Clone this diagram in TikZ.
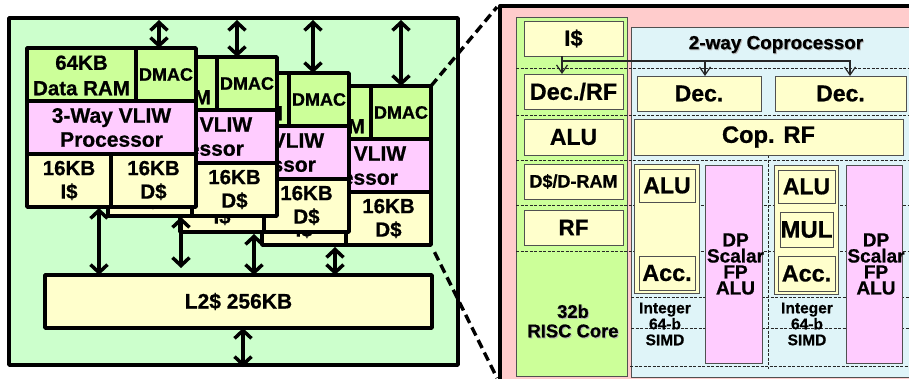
\documentclass[tikz,border=0pt]{standalone}
\usepackage{fontspec}
\setmainfont{Liberation Sans}[BoldFeatures={FakeBold=0.7}]
\usetikzlibrary{arrows.meta}
\definecolor{outergreen}{HTML}{CCFFCC}
\definecolor{ramgreen}{HTML}{CCFF99}
\definecolor{pinkfill}{HTML}{FFCCFF}
\definecolor{creamfill}{HTML}{FFFFCC}
\definecolor{redfill}{HTML}{FFCCCC}
\definecolor{bluefill}{HTML}{DFF4F8}
\definecolor{thinline}{HTML}{505050}
\newcommand\fsz[1]{\fontsize{#1}{#1}\selectfont\bfseries}
\newcommand\shd[1]{\leavevmode\rlap{\raisebox{-1pt}{\hspace{1pt}\textcolor{black!28}{#1}}}#1}
\tikzset{
  blk/.style={rectangle,inner sep=0pt,outer sep=0pt,align=center,text=black},
  heavy/.style={blk,draw=black,line width=3.6pt,line join=round},
  light/.style={blk,draw=thinline,line width=1pt},
  bus/.style={draw=black,line width=3.5pt,{Straight Barb[length=8pt,width=17pt]}-{Straight Barb[length=8pt,width=17pt]}},
  zoomline/.style={draw=black,line width=3.4pt,dash pattern=on 9pt off 5pt},
  stage/.style={draw=black!85,line width=.7pt,dash pattern=on 3pt off 1.5pt},
  feed/.style={draw=black!85,line width=1.2pt,-{Straight Barb[length=8pt,width=11pt]}},
  lbl/.style={inner sep=0pt,align=center,text=black}
}
\newcommand\blk[7]{%
  \pgfmathsetmacro\blkx{((#2)+(#4))/2}%
  \pgfmathsetmacro\blky{((#3)+(#5))/2}%
  \pgfmathsetmacro\blkw{(#4)-(#2)}%
  \pgfmathsetmacro\blkh{(#5)-(#3)}%
  \node[#6,minimum width=\blkw pt,minimum height=\blkh pt] (#1) at (\blkx,\blky) {#7};}
\newcommand\cluster[3]{%
  \blk{#1ram}{#2}{#3}{#2+109}{#3+53}{heavy,fill=ramgreen,font=\fsz{20.5},text depth=0pt}{\rule{0pt}{16pt}64KB\\[5pt]Data RAM}
  \blk{#1dmac}{#2+109}{#3}{#2+169}{#3+53}{heavy,fill=ramgreen,font=\fsz{18}}{DMAC}
  \blk{#1vliw}{#2}{#3+53}{#2+169}{#3+106}{heavy,fill=pinkfill,font=\fsz{21}}{3-Way VLIW\\[3pt]Processor}
  \blk{#1i}{#2}{#3+106}{#2+84}{#3+159}{heavy,fill=creamfill,font=\fsz{20.5}}{16KB\\[3pt]I\$}
  \blk{#1d}{#2+84}{#3+106}{#2+169}{#3+159}{heavy,fill=creamfill,font=\fsz{20.5}}{16KB\\[3pt]D\$}
}
\begin{document}
\begin{tikzpicture}[x=1pt,y=-1pt]
\clip (0,0) rectangle (909,378);
\fill[white] (0,0) rectangle (909,378);
% left panel
\blk{chip}{9}{18}{458}{365}{heavy,fill=outergreen}{}
\cluster{cd}{262}{86}
\cluster{cc}{180}{73}
\cluster{cb}{108}{57}
\cluster{ca}{27}{48}
\blk{ltwo}{45}{275}{432}{328}{heavy,fill=creamfill,font=\fsz{21}}{L2\$ 256KB}
\coordinate (ta) at (159,20);
\coordinate (tb) at (237,20);
\coordinate (tc) at (313,20);
\coordinate (td) at (401,20);
\draw[bus] (ta) -- (ta |- cadmac.north);
\draw[bus] (tb) -- (tb |- cbdmac.north);
\draw[bus] (tc) -- (tc |- ccdmac.north);
\draw[bus] (td) -- (td |- cddmac.north);
\coordinate (ba) at (99,208);
\coordinate (bb) at (181,217);
\coordinate (bbe) at (181,268);
\coordinate (bc) at (254,234);
\coordinate (bd) at (335,247);
\draw[bus] (ba) -- (ba |- ltwo.north);
\draw[bus] (bb) -- (bbe);
\draw[bus] (bc) -- (bc |- ltwo.north);
\draw[bus] (bd) -- (bd |- ltwo.north);
\coordinate (ext) at (243,367);
\draw[bus] (ext |- ltwo.south) -- (ext);
% right panel
\fill[redfill] (500,6) rectangle (915,385);
\draw[black,line width=4pt,line join=round] (500,385) -- (500,6) -- (915,6);
\blk{risc}{516}{17}{627}{376}{blk,draw=thinline,line width=.8pt,fill=ramgreen}{}
\blk{cop}{631}{27}{920}{377}{blk,draw=thinline,line width=.8pt,fill=bluefill}{}
\coordinate (zt) at (497,7);
\coordinate (zb) at (497,378);
\draw[zoomline] (cddmac.north east) -- (zt);
\draw[zoomline,shorten <=8pt] (cdd.south east) -- (zb);
% stage lines
\draw[stage] (516,68.5) -- (909,68.5);
\draw[stage] (516,115.5) -- (909,115.5);
\draw[stage] (516,160.5) -- (909,160.5);
\draw[stage] (516,205) -- (909,205);
\draw[stage] (516,251) -- (909,251);
\draw[stage] (631,297.5) -- (909,297.5);
\draw[stage] (631,328.5) -- (909,328.5);
\draw[stage] (630,366.5) -- (909,366.5);
\draw[stage] (768,155) -- (768,369);
% left column
\blk{ic}{524}{21}{623}{56}{light,fill=creamfill,font=\fsz{22}}{I\$}
\blk{decrf}{524}{74}{623}{109}{light,fill=creamfill,font=\fsz{23.5}}{Dec./RF}
\blk{alua}{524}{119}{623}{155}{light,fill=creamfill,font=\fsz{23}}{ALU}
\blk{dram}{524}{164}{623}{199}{light,fill=creamfill,font=\fsz{18}}{D\$/D-RAM}
\blk{rfa}{524}{210}{623}{245}{light,fill=creamfill,font=\fsz{22.5}}{RF}
\node[lbl,font=\fsz{18.4}] (risclabel) at (573,321.5) {\shd{32b}\\[1pt]\shd{RISC Core}};
% coprocessor
\node[lbl,font=\fsz{18.9}] (coplabel) at (776,45) {\shd{2-way Coprocessor}};
\blk{deca}{637}{76}{761}{111}{light,fill=creamfill,font=\fsz{23}}{Dec.}
\blk{decb}{775}{76}{906}{111}{light,fill=creamfill,font=\fsz{23}}{Dec.}
\blk{coprf}{634}{119}{903}{155}{light,fill=creamfill,font=\fsz{23.7}}{Cop. RF}
\blk{simda}{634}{164}{699}{293}{light,fill=creamfill}{}
\blk{aluc}{639}{169}{695}{202}{light,fill=creamfill,font=\fsz{23}}{ALU}
\blk{acca}{639}{256}{695}{290}{light,fill=creamfill,font=\fsz{23.4}}{Acc.}
\blk{fpa}{705}{165}{762}{363}{light,fill=pinkfill}{}
\node[lbl,font=\fsz{19}] (fpatext) at (735.5,264) {DP\\[-3pt]Scalar\\[-3pt]FP\\[-3pt]ALU};
\blk{simdb}{774}{165}{838}{294}{light,fill=creamfill}{}
\blk{alud}{778}{170}{835}{203}{light,fill=creamfill,font=\fsz{23}}{ALU}
\blk{mul}{780}{212}{833}{247}{light,fill=creamfill,font=\fsz{24}}{MUL}
\blk{accb}{778}{256}{835}{291}{light,fill=creamfill,font=\fsz{23.4}}{Acc.}
\blk{fpb}{846}{165}{902}{363}{light,fill=pinkfill}{}
\node[lbl,font=\fsz{19}] (fpbtext) at (876,264) {DP\\[-3pt]Scalar\\[-3pt]FP\\[-3pt]ALU};
\node[lbl,font=\fsz{15.5}] (inta) at (665,324) {Integer\\[.5pt]64-b\\[.5pt]SIMD};
\node[lbl,font=\fsz{15.5}] (intb) at (807,324) {Integer\\[.5pt]64-b\\[.5pt]SIMD};
% fetch connections
\coordinate (fa) at (562,61);
\coordinate (fb) at (705,61);
\coordinate (fc) at (850,61);
\draw[feed] (fa |- ic.south) -- (fa |- decrf.north);
\draw[feed] (fa) -- (fc) -- (fc |- decb.north);
\draw[feed] (fb) -- (fb |- deca.north);
\end{tikzpicture}
\end{document}
